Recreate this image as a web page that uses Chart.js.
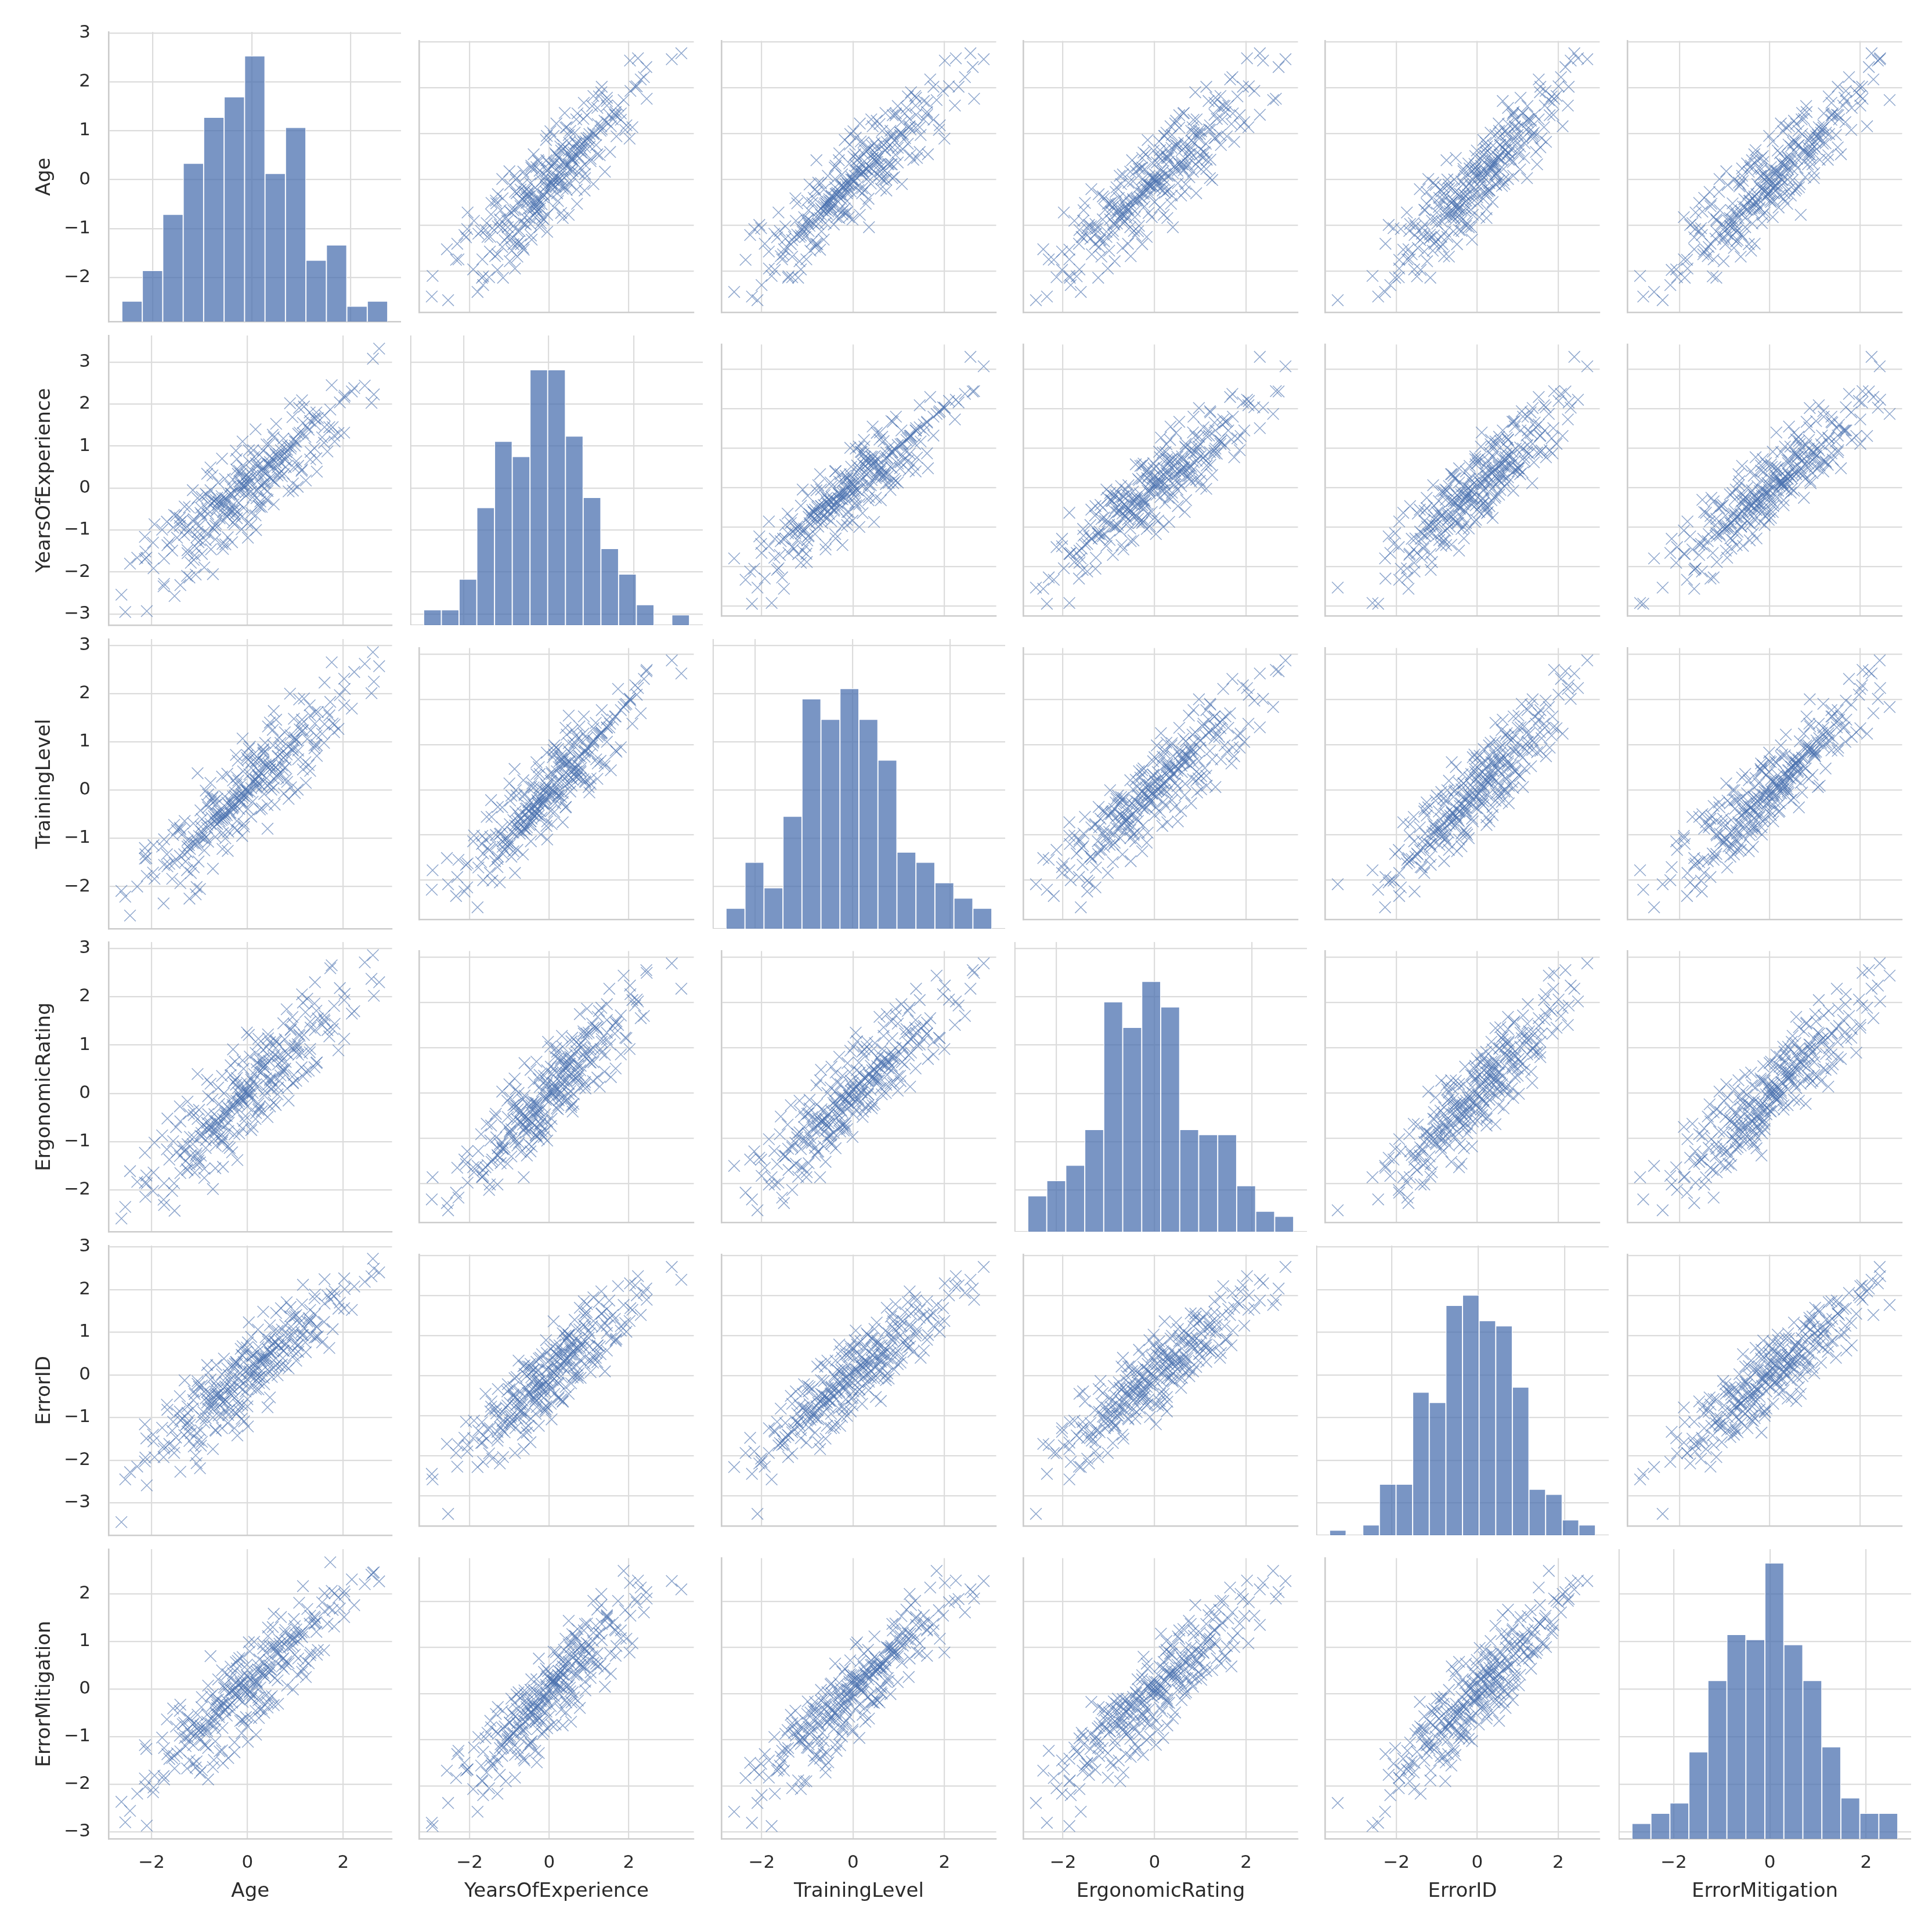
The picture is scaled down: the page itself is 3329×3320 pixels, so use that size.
<!DOCTYPE html>
<html>
<head>
<meta charset="utf-8">
<script src="https://cdn.jsdelivr.net/npm/chart.js@4.4.1/dist/chart.umd.min.js"></script>
<style>
html,body{margin:0;padding:0;background:#ffffff;}
#wrap{position:relative;width:3329px;height:3320px;overflow:hidden;background:#ffffff;}
#wrap canvas{position:absolute;}
</style>
</head>
<body>
<div id="wrap"></div>
<script>
// ---------------- DATA ----------------
const variables = ['Age', 'YearsOfExperience', 'TrainingLevel', 'ErgonomicRating', 'ErrorID', 'ErrorMitigation'];

const age = [
-2.63,-2.55,-2.10,-1.75,-2.45,-1.52,-2.30,-1.21,-2.13,-1.40,-1.97,-1.08,-2.14,-1.74,-0.99,-1.96,-1.57,-2.14,-1.26,-1.74,
-1.63,-0.90,-1.94,-1.25,-1.47,-0.72,-1.78,-1.06,-1.35,-2.11,-0.82,-1.18,-1.53,-0.52,-1.29,-0.95,-1.68,-0.67,-1.12,-1.41,
-0.87,-1.49,-0.51,-1.20,-0.97,-1.67,-0.66,-1.10,-0.40,-1.32,-0.82,-1.55,-1.02,-0.58,-1.25,-0.27,-0.90,-1.40,-0.70,-1.06,
-0.69,-1.22,-0.32,-0.92,-0.53,-1.41,-0.76,-0.21,-1.04,-0.60,-1.13,-0.41,-0.84,-0.11,-0.72,-1.31,-0.46,-0.98,-0.27,-0.63,
-0.43,-0.95,-0.12,-0.63,-1.14,-0.30,-0.75,0.01,-0.51,-0.87,-0.22,-0.66,-1.25,-0.37,-0.07,-0.82,-0.47,-1.01,-0.17,-0.59,
-0.31,-0.77,0.00,-0.46,-0.96,-0.15,-0.61,0.18,-0.38,-0.84,-0.08,-0.50,-1.12,-0.26,0.26,-0.67,-0.19,-0.42,0.08,-0.73,
-0.18,-0.61,0.17,-0.33,-0.84,0.30,-0.10,-0.49,-1.04,0.00,-0.39,0.42,-0.23,-0.69,0.08,-0.12,-0.54,0.24,-0.29,-0.04,
0.05,-0.42,0.30,-0.14,-0.65,0.47,-0.03,0.18,-0.35,0.55,-0.20,0.11,-0.53,0.35,-0.08,0.23,-0.77,0.42,0.00,-0.26,
0.11,-0.35,0.47,-0.01,0.27,-0.17,0.64,0.19,-0.47,0.39,0.04,0.57,-0.24,0.23,0.76,-0.09,0.33,0.08,0.51,-0.30,
0.28,-0.10,0.63,0.12,0.86,0.38,-0.22,0.54,0.19,0.74,0.01,0.45,0.97,0.23,-0.14,0.59,0.34,0.81,0.08,0.50,
0.47,0.05,0.83,0.34,1.05,0.14,0.63,-0.10,0.72,0.43,0.95,0.25,1.14,0.55,-0.01,0.79,0.37,0.99,0.20,0.67,
0.64,0.22,1.02,0.45,1.22,0.03,0.80,0.53,1.31,0.33,0.91,0.69,0.17,1.13,0.59,0.95,0.40,1.44,0.75,1.06,
0.85,0.43,1.28,0.66,1.45,0.97,0.33,1.16,0.78,1.60,0.55,1.06,0.90,1.40,0.47,1.21,1.02,1.71,0.72,1.32,
1.09,0.70,1.47,0.99,1.78,0.82,1.30,1.56,0.60,1.40,1.18,1.90,0.94,1.67,1.25,0.89,1.82,1.44,2.02,1.14,
1.31,1.81,1.08,1.61,2.03,1.41,1.16,1.93,1.61,2.18,1.41,2.02,1.73,2.23,2.59,1.76,2.64,2.62,2.45,2.75
];

const yearsOfExperience = [
-2.54,-2.95,-2.93,-2.34,-1.80,-2.57,-1.66,-2.13,-1.51,-2.31,-1.30,-2.06,-1.69,-2.28,-1.24,-1.91,-1.49,-1.16,-2.09,-1.68,
-1.30,-1.89,-0.86,-1.55,-1.18,-2.05,-0.99,-1.43,-0.76,-1.66,-1.09,-1.78,-0.64,-1.33,-0.95,-1.57,-0.80,-1.22,-1.71,-0.71,
-1.24,-0.66,-1.45,-0.99,-0.47,-1.36,-0.85,-1.60,-0.62,-1.12,-0.35,-0.94,-1.29,-0.72,-1.48,-0.52,-1.05,-0.81,-0.31,-1.17,
-0.99,-0.46,-1.29,-0.71,-0.26,-0.90,-1.46,-0.56,-1.04,-0.34,-0.79,-1.17,-0.17,-0.67,-0.95,-0.44,-1.34,-0.59,-0.86,-0.23,
-0.67,-0.21,-0.98,-0.47,-0.05,-0.82,-0.36,-1.18,-0.57,-0.14,-0.72,-0.28,-1.05,-0.51,0.06,-0.62,-0.43,-0.90,-0.09,-0.32,
-0.54,-0.05,-0.84,-0.24,-0.63,0.16,-0.40,-1.00,-0.16,-0.50,0.24,-0.34,-0.74,-0.09,-0.45,-0.90,0.04,-0.28,-0.59,0.30,
-0.35,0.13,-0.65,-0.14,0.34,-0.45,0.04,-0.77,-0.24,0.23,-0.56,-0.07,0.44,-0.30,-0.87,0.08,-0.19,0.55,-0.39,-0.10,
0.12,-0.32,0.42,-0.07,-0.54,0.24,-0.18,0.59,0.04,-0.39,0.34,-0.22,0.70,-0.01,-0.47,0.19,0.49,-0.28,0.09,-0.62,
0.30,-0.13,0.56,0.10,-0.32,0.41,0.77,-0.05,0.22,-0.26,0.62,0.15,0.89,-0.42,0.34,0.06,0.50,-0.08,0.72,0.20,
0.07,0.53,0.30,0.90,-0.08,0.40,0.69,0.17,-0.24,0.78,0.26,1.04,0.49,-0.03,0.34,0.61,0.12,0.86,0.43,0.22,
0.62,0.22,0.91,0.40,0.03,0.74,0.49,1.11,0.28,0.56,-0.06,0.79,0.44,1.21,0.32,0.67,0.13,1.01,0.52,0.37,
0.73,0.34,1.10,0.57,0.18,0.90,0.50,1.27,0.68,0.29,0.99,0.61,1.40,0.41,0.80,0.11,1.04,0.71,1.18,0.53,
0.99,0.58,1.39,0.81,0.39,1.17,0.89,1.55,0.68,1.08,0.49,1.29,0.94,1.67,0.76,1.22,0.64,1.45,1.02,0.86,
1.32,0.90,1.67,1.11,1.45,0.77,1.80,1.21,1.53,0.95,1.94,1.31,1.69,0.87,1.45,2.02,1.11,1.80,1.32,2.09,
1.60,1.25,1.91,1.45,2.20,1.65,1.31,2.04,1.73,2.30,1.51,2.16,1.87,2.38,2.03,2.45,2.23,3.08,2.44,3.32
];

const trainingLevel = [
-2.09,-2.21,-1.78,-2.35,-2.60,-1.51,-2.00,-2.25,-1.33,-1.93,-1.71,-2.16,-1.20,-1.55,-2.05,-1.14,-1.84,-1.42,-1.66,-1.02,
-1.53,-1.01,-1.84,-1.29,-0.83,-1.63,-1.17,-2.01,-0.90,-1.41,-1.07,-1.72,-0.72,-1.22,-1.48,-0.60,-1.33,-0.97,-1.60,-0.78,
-0.98,-1.43,-0.60,-1.22,-0.76,-1.58,-0.48,-1.10,-0.86,-1.33,-0.36,-0.93,-1.48,-0.64,-1.04,-0.28,-1.25,-0.81,-0.54,-1.14,
-0.76,-1.14,-0.38,-0.91,-0.57,-1.36,-0.23,-0.83,-1.07,-0.48,-0.69,-1.26,-0.30,-0.95,-0.13,-0.64,-1.00,-0.42,-0.79,-0.18,
-0.52,-0.99,-0.24,-0.70,-1.10,-0.13,-0.57,-0.39,-0.89,-0.01,-0.64,-0.30,-1.17,-0.47,-0.76,-0.09,-0.53,-0.95,-0.20,-0.43,
-0.36,-0.70,-0.01,-0.47,-0.86,-0.22,-0.57,0.14,-0.31,-0.78,-0.12,-0.50,-0.97,-0.05,-0.40,-0.67,0.20,-0.26,-0.55,-0.16,
-0.11,-0.49,0.21,-0.29,-0.72,0.07,-0.16,-0.56,0.35,-0.04,-0.41,-0.80,0.12,-0.23,0.46,-0.08,-0.62,0.27,-0.34,0.01,
-0.03,0.34,-0.38,0.11,-0.61,0.50,-0.15,0.22,-0.47,0.05,0.61,-0.24,0.28,-0.08,-0.70,0.41,0.15,-0.31,0.72,-0.12,
0.18,-0.23,0.43,0.00,0.61,-0.39,0.26,0.08,-0.13,0.50,0.33,-0.30,0.73,0.14,-0.07,0.39,0.85,0.04,0.54,0.20,
0.35,-0.04,0.70,0.19,-0.18,0.53,0.27,0.93,0.05,0.42,0.63,0.13,1.03,0.31,-0.27,0.47,0.78,0.23,0.58,0.01,
0.43,0.90,0.17,0.59,0.01,0.75,0.32,1.07,0.51,0.09,0.82,0.39,1.22,0.24,0.67,0.47,0.98,-0.06,0.62,0.33,
0.71,0.30,1.04,0.54,0.15,0.86,0.63,1.25,0.40,0.76,0.06,0.98,0.59,1.37,0.48,0.88,0.25,1.13,0.67,0.82,
0.90,1.32,0.52,1.09,0.71,1.48,0.83,0.43,1.20,0.98,1.64,0.64,1.14,0.87,1.40,0.58,1.04,1.55,0.78,1.24,
1.26,0.86,1.62,1.09,1.38,0.74,1.76,1.17,1.46,0.93,1.90,1.27,0.84,1.62,1.06,2.00,1.36,0.94,1.76,1.46,
1.55,1.20,1.88,1.37,2.10,1.62,1.24,1.97,2.23,1.69,1.38,2.31,1.83,2.45,2.01,2.65,2.25,2.86,2.62,2.57
];

const ergonomicRating = [
-2.59,-2.35,-1.86,-2.20,-1.61,-2.43,-1.83,-1.47,-2.14,-1.65,-2.02,-1.29,-1.85,-2.31,-1.43,-1.64,-2.02,-1.23,-1.57,-1.86,
-1.37,-1.75,-1.02,-1.59,-1.21,-1.98,-0.87,-1.47,-1.10,-1.70,-0.75,-1.28,-1.86,-0.98,-1.40,-0.68,-1.16,-1.55,-0.91,-1.30,
-1.13,-0.70,-1.52,-0.90,-1.29,-0.52,-1.08,-1.64,-0.78,-1.20,-0.43,-0.99,-1.39,-0.63,-1.05,-0.85,-1.56,-0.58,-0.95,-1.24,
-0.84,-0.42,-1.22,-0.65,-1.02,-0.27,-0.72,-1.38,-0.53,-0.92,-0.36,-1.10,-0.61,-0.15,-0.80,-1.18,-0.46,-0.88,-0.25,-0.68,
-0.47,-0.89,-0.10,-0.62,-1.05,-0.28,-0.71,0.03,-0.53,-0.97,-0.39,-0.78,-0.17,-1.13,-0.57,-0.06,-0.67,-0.34,-0.83,-0.22,
-0.24,-0.63,0.08,-0.40,-0.82,-0.08,-0.51,0.19,-0.32,-0.72,-0.16,-0.94,-0.45,0.27,-0.27,-0.59,0.01,-0.38,-0.76,-0.13,
-0.22,0.12,-0.53,-0.10,0.28,-0.37,-0.73,0.00,0.40,-0.27,-0.61,0.17,-0.15,-0.43,0.32,-0.06,-0.85,-0.31,0.23,-0.47,
0.15,-0.27,0.45,-0.11,-0.57,0.27,0.04,-0.41,0.58,-0.19,0.11,-0.69,0.36,-0.04,0.51,-0.34,0.20,-0.49,0.00,0.66,
0.01,0.38,-0.27,0.22,0.69,-0.17,0.12,0.50,-0.36,0.31,-0.03,0.80,0.18,-0.21,0.46,0.07,0.60,-0.11,0.27,0.91,
0.43,0.04,0.76,0.24,-0.15,0.59,0.32,0.99,0.13,0.50,-0.03,0.67,0.38,1.13,0.19,-0.24,0.54,0.84,0.28,0.08,
0.30,0.76,0.10,0.55,1.02,0.40,-0.02,0.68,0.45,1.14,0.21,0.60,0.83,0.34,1.26,0.51,0.05,0.93,0.64,0.26,
0.60,1.02,0.26,0.77,0.45,1.21,0.65,0.14,0.92,0.72,1.33,0.37,0.84,0.54,1.10,0.22,0.96,0.63,1.45,0.80,
0.81,1.22,0.47,1.01,0.64,1.43,0.90,0.35,1.12,1.53,0.75,0.97,1.31,0.54,1.06,1.68,0.86,1.18,0.68,1.36,
1.19,0.79,1.55,0.99,1.33,1.74,0.85,1.41,1.07,1.86,1.21,0.89,1.58,1.31,1.96,0.97,1.44,1.71,1.13,2.05,
1.48,1.81,1.22,1.61,2.06,1.31,1.88,2.18,1.50,1.65,2.30,1.93,2.59,1.70,2.37,2.65,2.02,2.86,2.71,2.30
];

const errorID = [
-3.45,-2.45,-2.59,-1.93,-2.28,-1.70,-2.15,-1.55,-1.94,-2.27,-1.40,-1.89,-1.16,-1.73,-2.19,-1.56,-1.31,-2.03,-1.15,-1.67,
-1.62,-1.12,-1.93,-1.33,-0.90,-1.74,-1.24,-2.07,-1.03,-1.49,-0.79,-1.37,-1.83,-0.94,-1.18,-1.57,-0.70,-1.29,-1.68,-0.86,
-1.02,-1.47,-0.64,-1.17,-1.66,-0.82,-1.31,-0.45,-0.94,-1.41,-0.58,-1.10,-1.53,-0.72,-0.89,-1.25,-0.39,-1.06,-0.78,-1.36,
-0.68,-1.07,-0.33,-0.87,-1.25,-0.50,-0.77,-1.42,-0.21,-0.95,-0.59,-1.13,-0.40,-0.71,-1.00,-0.13,-0.83,-1.30,-0.54,-0.29,
-0.62,-0.25,-1.03,-0.45,-0.79,-0.03,-0.67,-1.21,-0.33,-0.55,-0.91,-0.16,-0.74,-0.43,-1.09,0.05,-0.59,-0.28,-0.84,-0.51,
-0.43,-0.11,-0.74,-0.27,-0.99,0.04,-0.53,-0.34,-0.82,0.23,-0.19,-0.63,-0.39,-0.89,-0.04,-0.47,-0.70,0.15,-0.30,-0.59,
-0.08,-0.45,0.24,-0.23,-0.65,0.09,-0.35,0.38,-0.15,-0.57,0.00,-0.76,0.30,-0.30,-0.06,0.47,-0.50,-0.19,0.15,-0.39,
0.08,-0.36,0.38,-0.16,0.23,-0.53,0.54,-0.04,-0.30,0.16,-0.63,0.45,0.01,-0.22,0.30,0.65,-0.45,0.12,-0.11,0.26,
0.26,-0.11,0.53,0.10,0.35,-0.28,0.70,0.16,-0.17,0.43,0.01,0.78,0.30,-0.34,0.56,0.12,0.39,0.89,-0.05,0.22,
0.31,0.67,-0.01,0.46,0.15,0.88,0.26,0.55,-0.12,0.39,0.76,0.09,1.00,0.35,0.61,0.22,-0.07,0.72,0.43,0.51,
0.51,0.16,0.86,0.39,0.68,0.06,1.03,0.45,0.24,0.78,0.57,-0.05,0.93,0.34,0.64,1.17,0.29,0.74,0.53,0.20,
0.68,1.06,0.33,0.83,0.53,1.23,0.21,0.73,0.94,0.44,1.13,0.63,0.11,1.00,0.77,1.36,0.38,0.88,0.57,0.71,
0.95,0.60,1.33,0.83,1.12,0.45,1.48,0.93,0.70,1.24,1.02,0.54,1.59,0.87,1.16,0.76,1.40,0.63,1.06,1.28,
1.22,1.56,0.90,1.37,1.07,1.70,1.24,0.76,1.45,1.79,1.10,1.55,0.92,1.86,1.25,1.37,1.96,1.13,1.56,1.65,
1.52,1.84,1.32,1.67,2.01,1.42,2.11,1.69,2.24,1.52,1.88,2.26,1.77,2.07,2.31,1.90,2.49,2.72,2.18,2.40
];

const errorMitigation = [
-2.37,-2.80,-2.87,-1.83,-2.56,-1.67,-2.20,-1.50,-2.05,-1.31,-2.17,-1.65,-1.88,-1.24,-1.76,-2.07,-1.45,-1.18,-1.67,-1.90,
-1.47,-1.17,-1.82,-0.85,-1.35,-1.64,-1.02,-1.52,-0.74,-1.26,-1.90,-0.94,-1.41,-0.82,-1.20,-1.71,-0.64,-1.10,-1.56,-0.98,
-1.18,-0.79,-1.56,-0.63,-1.06,-1.37,-0.49,-0.97,-1.45,-0.71,-1.24,-0.41,-0.87,-1.31,-0.59,-1.12,-0.91,-0.33,-1.49,-0.75,
-0.63,-1.09,-0.29,-0.84,-1.29,-0.46,-0.73,-0.18,-0.98,-0.54,-1.18,-0.37,-0.88,-0.65,-0.11,-1.03,-0.44,-0.77,-1.33,-0.34,
-0.56,-0.17,-0.93,-0.40,-0.75,-0.02,-0.63,-1.11,-0.29,-0.82,-0.10,-0.52,-1.01,-0.34,-0.68,0.07,-0.45,-0.87,-0.22,-0.59,
-0.47,-0.15,-0.78,0.01,-0.38,-0.67,-0.22,-0.96,-0.07,-0.54,0.16,-0.31,-0.72,-0.11,-0.43,-0.85,0.08,-0.26,-0.61,-0.35,
-0.15,0.20,-0.46,-0.03,-0.69,0.31,-0.27,0.03,-0.54,0.40,-0.11,-0.39,0.15,-0.77,-0.20,0.26,-0.34,-0.61,0.08,-0.07,
-0.05,0.31,-0.41,0.14,-0.23,0.49,-0.59,0.03,0.22,-0.34,0.59,-0.12,0.39,-0.50,0.08,-0.18,0.69,-0.28,0.26,0.00,
0.14,0.47,-0.19,0.29,0.03,0.65,-0.31,0.37,0.10,0.76,-0.08,0.23,0.56,-0.24,0.42,-0.01,0.85,0.19,-0.15,0.33,
0.38,0.05,0.73,0.26,0.54,-0.14,0.43,0.90,0.16,0.63,0.00,0.34,1.07,0.49,0.11,0.80,0.28,0.58,-0.19,0.40,
0.41,0.79,0.07,0.56,0.30,0.99,0.18,0.67,0.47,1.11,-0.01,0.62,0.36,0.87,0.51,1.24,0.25,0.72,0.13,0.95,
0.77,0.41,1.14,0.61,0.25,0.98,0.52,1.30,0.71,0.34,1.07,0.86,0.15,1.19,0.57,0.91,0.46,1.40,0.65,1.00,
0.87,1.29,0.54,1.04,0.72,1.47,0.95,0.43,1.18,0.81,1.58,0.64,1.10,1.37,0.90,0.59,1.25,1.70,0.99,0.76,
1.16,1.51,0.82,1.32,1.66,1.01,1.37,1.82,0.88,1.52,1.19,1.92,1.03,1.37,1.68,0.89,2.01,1.20,1.51,1.09,
1.54,1.31,1.81,1.63,1.98,1.39,2.16,1.69,2.01,2.30,1.49,2.05,2.66,1.76,2.40,2.06,2.45,2.44,2.20,2.26
];

// histogram bar counts (bins span each variable's min..max)
const histAge = [4, 10, 21, 31, 40, 44, 52, 29, 38, 12, 15, 3, 4];
const histYearsOfExperience = [3, 3, 9, 23, 36, 33, 50, 50, 37, 25, 15, 10, 4, 0, 2];
const histTrainingLevel = [4, 13, 8, 22, 45, 41, 47, 41, 33, 15, 13, 9, 6, 4];
const histErgonomicRating = [7, 10, 13, 20, 45, 40, 49, 44, 20, 19, 19, 9, 4, 3];
const histErrorID = [1, 0, 2, 10, 10, 28, 26, 45, 47, 42, 41, 29, 9, 8, 3, 2];
const histErrorMitigation = [3, 5, 7, 17, 31, 40, 39, 54, 38, 31, 18, 8, 5, 5];

// tick values
const ticksAge = [-2, -1, 0, 1, 2, 3];
const ticksYearsOfExperience = [-3, -2, -1, 0, 1, 2, 3];
const ticksTrainingLevel = [-2, -1, 0, 1, 2, 3];
const ticksErgonomicRating = [-2, -1, 0, 1, 2, 3];
const ticksErrorID = [-3, -2, -1, 0, 1, 2, 3];
const ticksErrorMitigation = [-3, -2, -1, 0, 1, 2];
const xTicks = [-2, 0, 2];

// ---------------- LAYOUT / STYLE ----------------
const columns = [age, yearsOfExperience, trainingLevel, ergonomicRating, errorID, errorMitigation];
const hists = [histAge, histYearsOfExperience, histTrainingLevel, histErgonomicRating, histErrorID, histErrorMitigation];
const yTickSets = [ticksAge, ticksYearsOfExperience, ticksTrainingLevel, ticksErgonomicRating, ticksErrorID, ticksErrorMitigation];

const COL_LEFT = [187, 707, 1228, 1748, 2268, 2789];
const ROW_TOP = [55, 578, 1101, 1623, 2146, 2669];
const PW = 504, PH = 499, AXH = 152, EXT = 24;

const FONT = "'DejaVu Sans', sans-serif";
const TEXT = '#2b2b2b';
const GRID = '#dcdcdc';
const SPINE = '#cccccc';
const BLUE_BAR = 'rgba(76,114,176,0.75)';
const BLUE_PT = 'rgba(76,114,176,0.62)';

function rangeOf(arr) {
  const lo = Math.min(...arr), hi = Math.max(...arr);
  const m = 0.05 * (hi - lo);
  return { lo, hi, min: lo - m, max: hi + m };
}
const ranges = columns.map(rangeOf);
const maxCount = Math.max(...hists.flat());
const fmt = v => (v < 0 ? '\u2212' + Math.abs(v) : String(v));

function makeScale(kind, rng, tickVals, showLabels, title, size) {
  const isX = kind === 'x';
  return {
    type: 'linear',
    position: isX ? 'bottom' : 'left',
    min: rng.min, max: rng.max,
    offset: false,
    grid: { color: GRID, lineWidth: 2.2, drawTicks: false, offset: false },
    border: { display: true, color: SPINE, width: 2.6 },
    ticks: {
      display: showLabels, padding: isX ? 23 : 31, color: TEXT,
      font: { family: FONT, size: 31 }, maxRotation: 0, minRotation: 0, autoSkip: false,
      callback: v => fmt(v)
    },
    title: {
      display: showLabels, text: title, color: TEXT,
      font: { family: FONT, size: 34 },
      padding: isX ? { top: 0, bottom: 40 } : { top: 57, bottom: 0 }
    },
    afterBuildTicks: s => { s.ticks = tickVals.map(v => ({ value: v })); },
    afterFit: s => {
      if (isX) s.height = size; else s.width = size;
      s.paddingTop = 0; s.paddingBottom = 0; s.paddingLeft = 0; s.paddingRight = 0;
    }
  };
}

const wrap = document.getElementById('wrap');

for (let r = 0; r < 6; r++) {
  for (let c = 0; c < 6; c++) {
    const isLeft = c === 0, isBottom = r === 5;
    const x0 = isLeft ? 0 : COL_LEFT[c];
    const y0 = isLeft ? ROW_TOP[r] - EXT : ROW_TOP[r];
    const w = isLeft ? COL_LEFT[0] + PW : PW;
    const h = (isLeft ? EXT : 0) + PH + (isBottom ? AXH : (isLeft ? EXT : 0));
    const cv = document.createElement('canvas');
    cv.width = w; cv.height = h;
    cv.style.left = x0 + 'px'; cv.style.top = y0 + 'px';
    cv.style.width = w + 'px'; cv.style.height = h + 'px';
    wrap.appendChild(cv);

    const scales = {
      x: makeScale('x', ranges[c], xTicks, isBottom, variables[c], isBottom ? AXH : 0),
      y: makeScale('y', ranges[r], yTickSets[r], isLeft, variables[r], isLeft ? COL_LEFT[0] : 0)
    };

    const common = {
      responsive: false, maintainAspectRatio: false, animation: false,
      devicePixelRatio: 1, events: [],
      layout: { padding: { left: 0, right: 0, top: isLeft ? EXT : 0, bottom: (isLeft && !isBottom) ? EXT : 0 } },
      plugins: { legend: { display: false }, tooltip: { enabled: false } },
      scales
    };

    let cfg;
    if (r === c) {
      const counts = hists[c];
      const rg = ranges[c];
      const bw = (rg.hi - rg.lo) / counts.length;
      scales.yc = { type: 'linear', position: 'right', display: false, min: 0, max: maxCount * 1.05 };
      cfg = {
        type: 'bar',
        data: {
          datasets: [{
            data: counts.map((n, k) => ({ x: rg.lo + (k + 0.5) * bw, y: n })),
            xAxisID: 'x', yAxisID: 'yc',
            backgroundColor: BLUE_BAR,
            borderColor: 'rgba(255,255,255,0.85)',
            borderWidth: 1.3,
            barPercentage: 1, categoryPercentage: 1
          }]
        },
        options: common
      };
    } else {
      cfg = {
        type: 'scatter',
        data: {
          datasets: [{
            data: columns[c].map((xv, i) => ({ x: xv, y: columns[r][i] })),
            pointStyle: 'crossRot',
            pointRadius: 14,
            borderColor: BLUE_PT, pointBorderColor: BLUE_PT,
            borderWidth: 1.5, pointBorderWidth: 1.5,
            backgroundColor: 'rgba(0,0,0,0)', pointBackgroundColor: 'rgba(0,0,0,0)'
          }]
        },
        options: common
      };
    }
    new Chart(cv.getContext('2d'), cfg);
  }
}
</script>
</body>
</html>
